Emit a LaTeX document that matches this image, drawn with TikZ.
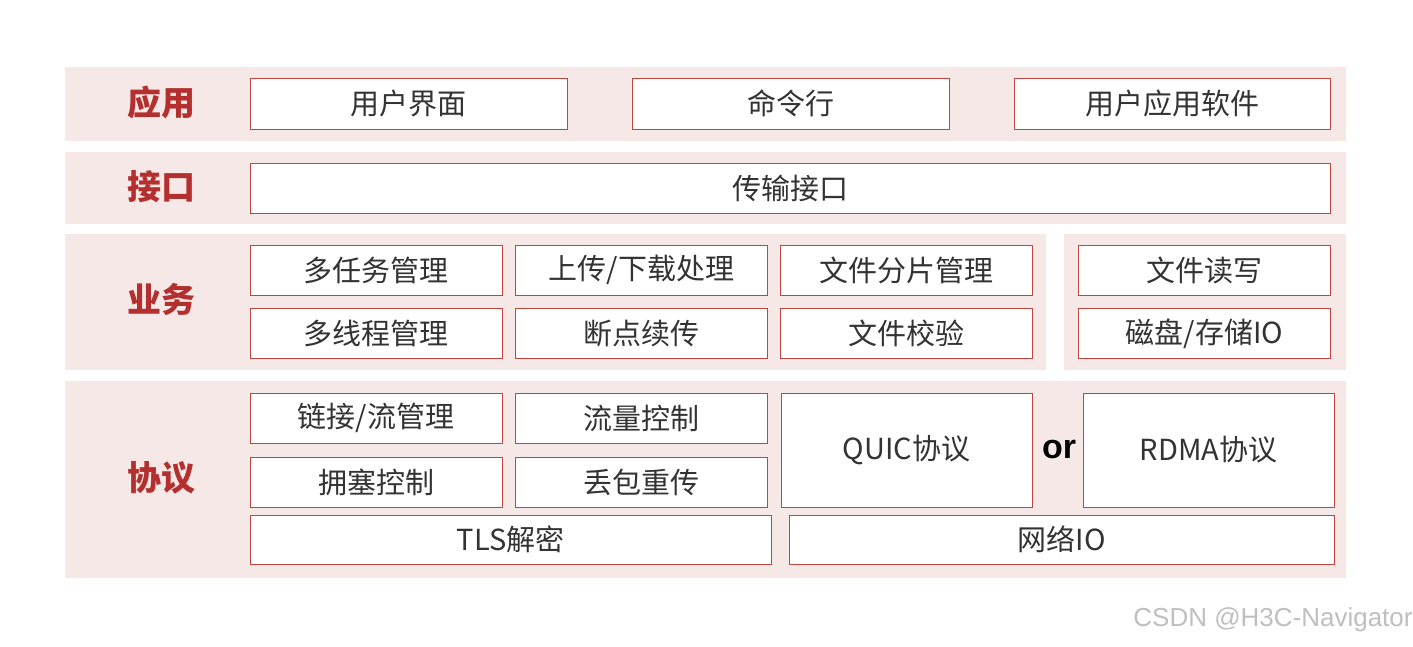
\documentclass[tikz,border=0pt]{standalone}
\usepackage{fontspec}
\setmainfont{Noto Sans CJK SC}
\newfontfamily\wmfont{Liberation Sans}
\definecolor{bandfill}{HTML}{F7E8E8}
\definecolor{cellline}{HTML}{C0453E}
\definecolor{layertxt}{HTML}{B3302E}
\begin{document}
\begin{tikzpicture}[x=1pt,y=-1pt,
	cell/.style={draw=cellline,line width=1pt,fill=white,inner sep=0pt,
		font=\fontsize{29}{31}\selectfont,text=black!80},
	layer/.style={text=layertxt,font=\fontsize{34}{36}\selectfont\bfseries}]
	\useasboundingbox (0,0) rectangle (1413,646);
	% bands
	\fill[bandfill] (65,67) rectangle (1346,141);
	\fill[bandfill] (65,152) rectangle (1346,224);
	\fill[bandfill] (65,234) rectangle (1046,370);
	\fill[bandfill] (1064,234) rectangle (1346,370);
	\fill[bandfill] (65,381) rectangle (1346,578);
	% layer names
	\node[layer] (app) at (161,103) {应用};
	\node[layer] (api) at (161,187) {接口};
	\node[layer] (biz) at (161,300) {业务};
	\node[layer] (proto) at (161,478) {协议};
	% 应用
	\node[cell,minimum width=317,minimum height=51] (ui) at (408.5,103.5) {用户界面};
	\node[cell,minimum width=317,minimum height=51] (cli) at (790.5,103.5) {命令行};
	\node[cell,minimum width=316,minimum height=51] (soft) at (1172,103.5) {用户应用软件};
	% 接口
	\node[cell,minimum width=1080,minimum height=50] (trans) at (790,188) {传输接口};
	% 业务
	\node[cell,minimum width=252,minimum height=50] (multitask) at (376,270) {多任务管理};
	\node[cell,minimum width=252,minimum height=50] (updown) at (641.5,270) {上传/下载处理};
	\node[cell,minimum width=252,minimum height=50] (slice) at (906.5,270) {文件分片管理};
	\node[cell,minimum width=252,minimum height=50] (rw) at (1204.5,270) {文件读写};
	\node[cell,minimum width=252,minimum height=50] (thread) at (376,333.5) {多线程管理};
	\node[cell,minimum width=252,minimum height=50] (resume) at (641.5,333.5) {断点续传};
	\node[cell,minimum width=252,minimum height=50] (check) at (906.5,333.5) {文件校验};
	\node[cell,minimum width=252,minimum height=50] (disk) at (1204.5,333.5) {磁盘/存储IO};
	% 协议
	\node[cell,minimum width=252,minimum height=50] (link) at (376,418) {链接/流管理};
	\node[cell,minimum width=252,minimum height=50] (flow) at (641.5,418) {流量控制};
	\node[cell,minimum width=252,minimum height=50] (cong) at (376,482) {拥塞控制};
	\node[cell,minimum width=252,minimum height=50] (retx) at (641.5,482) {丢包重传};
	\node[cell,minimum width=251,minimum height=114] (quic) at (906.5,450) {QUIC协议};
	\node[cell,minimum width=251,minimum height=114] (rdma) at (1208.5,450) {RDMA协议};
	\node[font=\wmfont\fontsize{34}{36}\selectfont\bfseries] (or) at (1059,450) {or};
	\node[cell,minimum width=521,minimum height=49] (tls) at (510.5,539.5) {TLS解密};
	\node[cell,minimum width=545,minimum height=49] (netio) at (1061.5,539.5) {网络IO};
	% watermark
	\node[text=black!25,font=\wmfont\fontsize{26}{28}\selectfont] (mark) at (1273,620) {CSDN @H3C-Navigator};
\end{tikzpicture}
\end{document}
